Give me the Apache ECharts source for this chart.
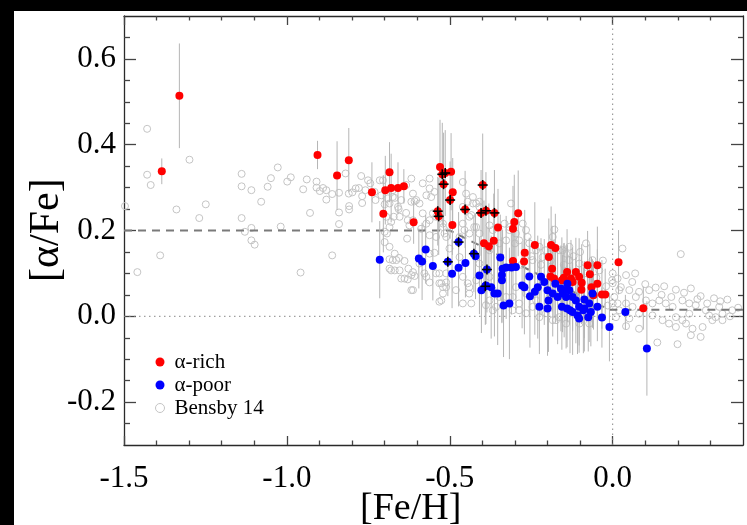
<!DOCTYPE html>
<html><head><meta charset="utf-8">
<script src="https://cdn.jsdelivr.net/npm/echarts@6/dist/echarts.min.js"></script>
<style>
html,body{margin:0;padding:0;background:#000;width:747px;height:525px;overflow:hidden}
#paper{position:absolute;left:14px;top:11px;width:733px;height:514px;background:#fff}
#chart{position:absolute;left:0;top:0;width:747px;height:525px}
</style></head><body>
<div id="paper"></div><div id="chart"></div>
<script>
// ---------- data ----------
const xMajor = [-1.5, -1.0, -0.5, 0.0];
const xMinor = [-1.4,-1.3,-1.2,-1.1,-0.9,-0.8,-0.7,-0.6,-0.4,-0.3,-0.2,-0.1,0.1,0.2,0.3];
const yMajor = [-0.2, 0.0, 0.2, 0.4, 0.6];
const yMinor = [-0.25,-0.15,-0.1,-0.05,0.05,0.1,0.15,0.25,0.3,0.35,0.45,0.5,0.55,0.65];

// [Fe/H], [alpha/Fe], error
const alphaRich = [
[-1.384,0.338,0.03],[-1.330,0.514,0.122],[-0.906,0.376,0.033],[-0.846,0.328,0.08],[-0.810,0.364,0.075],
[-0.739,0.289,0.07],[-0.704,0.239,0.09],[-0.698,0.294,0.08],[-0.685,0.336,0.07],[-0.680,0.299,0.08],
[-0.659,0.299,0.06],[-0.641,0.303,0.04],[-0.611,0.219,0.05],[-0.530,0.348,0.11],[-0.523,0.331,0.12],
[-0.514,0.334,0.10],[-0.496,0.337,0.09],[-0.519,0.308,0.12],[-0.491,0.289,0.08],[-0.499,0.271,0.09],
[-0.537,0.245,0.08],[-0.534,0.233,0.09],[-0.492,0.213,0.07],[-0.453,0.249,0.09],[-0.399,0.306,0.12],
[-0.404,0.241,0.10],[-0.389,0.246,0.09],[-0.363,0.241,0.10],[-0.352,0.207,0.09],[-0.365,0.176,0.11],
[-0.395,0.170,0.10],[-0.380,0.163,0.10],[-0.306,0.204,0.10],[-0.302,0.220,0.11],[-0.290,0.240,0.10],
[-0.306,0.129,0.09],[-0.270,0.148,0.10],[-0.272,0.128,0.08],[-0.239,0.166,0.10],[-0.189,0.166,0.09],
[-0.176,0.159,0.08],[-0.196,0.138,0.09],[-0.186,0.111,0.10],[-0.191,0.093,0.08],[-0.180,0.088,0.09],
[-0.140,0.103,0.10],[-0.113,0.103,0.08],[-0.103,0.092,0.09],[-0.077,0.119,0.08],[-0.047,0.119,0.09],
[-0.070,0.098,0.07],[-0.047,0.076,0.08],[-0.095,0.078,0.09],[-0.123,0.080,0.08],[-0.065,0.068,0.07],
[-0.033,0.051,0.08],[-0.023,0.051,0.06],[-0.059,0.049,0.08],[-0.156,0.084,0.10],[-0.128,0.088,0.09],
[0.018,0.126,0.075],[0.094,0.019,0.05],[-0.096,0.062,0.08],[-0.150,0.090,0.08]
];
const alphaPoor = [
[-0.715,0.132,0.09],[-0.574,0.156,0.08],[-0.595,0.135,0.07],[-0.585,0.128,0.09],[-0.552,0.117,0.08],
[-0.493,0.099,0.08],[-0.473,0.113,0.09],[-0.452,0.124,0.08],[-0.421,0.140,0.10],[-0.409,0.095,0.09],
[-0.403,0.061,0.10],[-0.389,0.072,0.09],[-0.373,0.068,0.12],[-0.363,0.053,0.10],[-0.353,0.053,0.12],
[-0.345,0.137,0.10],[-0.338,0.111,0.09],[-0.340,0.096,0.11],[-0.340,0.084,0.10],[-0.327,0.114,0.12],
[-0.311,0.114,0.11],[-0.297,0.115,0.10],[-0.335,0.025,0.12],[-0.317,0.030,0.13],[-0.278,0.072,0.10],
[-0.271,0.068,0.11],[-0.256,0.093,0.09],[-0.254,0.047,0.12],[-0.239,0.057,0.10],[-0.230,0.068,0.12],
[-0.220,0.092,0.09],[-0.210,0.080,0.10],[-0.200,0.061,0.11],[-0.197,0.037,0.12],[-0.200,0.018,0.11],
[-0.184,0.053,0.10],[-0.169,0.045,0.11],[-0.176,0.076,0.09],[-0.159,0.065,0.10],[-0.149,0.061,0.11],
[-0.143,0.045,0.12],[-0.156,0.022,0.10],[-0.140,0.018,0.09],[-0.131,0.014,0.10],[-0.139,0.076,0.09],
[-0.123,0.045,0.08],[-0.113,0.037,0.10],[-0.103,0.022,0.09],[-0.103,-0.005,0.08],[-0.090,0.014,0.10],
[-0.075,-0.002,0.08],[-0.072,0.030,0.09],[-0.062,0.053,0.08],[-0.047,0.022,0.08],[-0.010,-0.025,0.08],
[0.039,0.010,0.04],[0.105,-0.075,0.11],[-0.033,-0.003,0.07],[-0.473,0.173,0.07],[-0.506,0.127,0.08],
[-0.426,0.146,0.09],[-0.386,0.109,0.10],[-0.391,0.070,0.09],[-0.225,0.022,0.11],[-0.108,0.002,0.09],
[-0.087,0.018,0.10],[-0.067,0.010,0.08],[-0.087,0.039,0.09],[-0.133,0.061,0.08],[-0.154,0.053,0.09],
[-0.123,0.010,0.10]
];
// stars flagged with a black cross
const crossMarks = [
[-0.523,0.331],[-0.514,0.334],[-0.519,0.308],[-0.499,0.271],[-0.537,0.245],[-0.534,0.233],
[-0.453,0.249],[-0.399,0.306],[-0.404,0.241],[-0.389,0.246],[-0.363,0.241],
[-0.473,0.173],[-0.506,0.127],[-0.426,0.146],[-0.386,0.109],[-0.391,0.070]
];
const bensby = [
[-1.497,0.257],[-1.459,0.103],[-1.429,0.437],[-1.429,0.330],[-1.418,0.306],[-1.389,0.142],[-1.339,0.249],[-1.299,0.365],[-1.269,0.229],[-1.249,0.261],
[-1.139,0.332],[-1.139,0.303],[-1.139,0.229],[-1.129,0.197],[-1.109,0.294],[-1.109,0.206],[-1.109,0.177],[-1.099,0.167],[-1.079,0.267],[-1.059,0.302],[-1.049,0.322],[-1.028,0.347],[-1.019,0.209],
[-0.999,0.314],[-0.988,0.324],[-0.958,0.102],[-0.950,0.296],[-0.939,0.319],[-0.929,0.241],[-0.909,0.314],[-0.909,0.300],[-0.899,0.292],[-0.889,0.299],[-0.879,0.294],[-0.879,0.272],[-0.861,0.285],[-0.861,0.142],[-0.840,0.288],[-0.840,0.242],[-0.840,0.215],[-0.820,0.333],[-0.810,0.286],[-0.809,0.257],[-0.809,0.249],[-0.799,0.289],[-0.789,0.298],[-0.779,0.299],[-0.772,0.327],[-0.769,0.280],[-0.769,0.264],[-0.759,0.294],[-0.751,0.317],[-0.744,0.310],[-0.731,0.290],[-0.728,0.271],[-0.715,0.317],[-0.710,0.282],[-0.705,0.317],
[-0.700,0.261],[-0.700,0.197],[-0.695,0.232],[-0.693,0.193],[-0.690,0.275],[-0.685,0.263],[-0.685,0.208],[-0.675,0.294],[-0.675,0.278],[-0.672,0.232],[-0.669,0.276],[-0.680,0.220],[-0.659,0.255],[-0.657,0.250],[-0.654,0.232],[-0.649,0.271],[-0.634,0.306],[-0.634,0.241],[-0.629,0.224],[-0.624,0.212],[-0.618,0.321],[-0.618,0.267],[-0.613,0.286],[-0.613,0.224],[-0.608,0.268],[-0.603,0.271],[-0.593,0.263],[-0.588,0.204],[-0.583,0.310],[-0.583,0.240],[-0.572,0.282],[-0.572,0.216],[-0.562,0.321],[-0.562,0.298],[-0.562,0.224],[-0.562,0.189],[-0.557,0.278],[-0.552,0.240],[-0.547,0.290],[-0.542,0.232],[-0.542,0.185],[-0.521,0.216],[-0.521,0.208],[-0.516,0.193],[-0.511,0.185],[-0.631,0.181],[-0.700,0.173],[-0.685,0.162],
[-0.685,0.133],[-0.685,0.111],[-0.675,0.131],[-0.669,0.146],[-0.669,0.107],[-0.664,0.131],[-0.656,0.136],[-0.680,0.107],[-0.654,0.107],[-0.649,0.088],[-0.639,0.129],[-0.639,0.088],[-0.629,0.086],[-0.627,0.111],[-0.618,0.096],[-0.618,0.061],[-0.613,0.103],[-0.613,0.061],[-0.608,0.094],[-0.593,0.123],[-0.578,0.100],[-0.572,0.092],[-0.562,0.146],[-0.562,0.079],[-0.547,0.148],[-0.542,0.100],[-0.532,0.100],[-0.532,0.077],[-0.532,0.034],[-0.526,0.077],[-0.521,0.053],[-0.521,0.068],[-0.526,0.037],[-0.511,0.079],[-0.511,0.068],[-0.511,0.100],
[-0.501,0.158],[-0.481,0.061],[-0.470,0.138],[-0.470,0.185],[-0.460,0.313],[-0.460,0.255],[-0.460,0.216],[-0.460,0.092],[-0.460,0.030],[-0.455,0.201],[-0.450,0.286],[-0.445,0.267],[-0.445,0.077],[-0.440,0.232],[-0.440,0.193],[-0.440,0.068],[-0.440,0.053],[-0.434,0.236],[-0.434,0.030],[-0.429,0.278],[-0.429,0.263],[-0.425,0.208],[-0.419,0.263],[-0.419,0.208],[-0.419,0.084],[-0.409,0.267],[-0.409,0.255],[-0.409,0.193],[-0.409,0.123],[-0.389,0.107],[-0.389,0.026],[-0.378,0.212],[-0.378,0.154],[-0.378,0.092],[-0.378,0.037],[-0.368,0.201],[-0.368,0.061],[-0.368,0.014],[-0.358,0.022],[-0.348,0.170],[-0.348,0.045],[-0.332,0.216],[-0.327,0.177],[-0.327,0.045],[-0.317,0.208],[-0.317,0.201],[-0.312,0.263],[-0.307,0.014],[-0.307,0.045],
[-0.300,0.170],[-0.297,0.193],[-0.297,0.068],[-0.287,0.177],[-0.287,0.030],[-0.287,0.014],[-0.280,0.120],[-0.276,0.216],[-0.266,0.201],[-0.266,0.053],[-0.266,0.007],[-0.261,0.185],[-0.256,0.170],[-0.250,0.140],[-0.246,0.131],[-0.246,0.022],[-0.235,0.154],[-0.235,0.037],[-0.225,0.162],[-0.225,-0.002],[-0.220,0.120],[-0.215,0.138],[-0.205,0.154],[-0.205,0.007],[-0.194,0.045],[-0.190,0.130],[-0.184,0.185],[-0.184,-0.009],[-0.179,0.202],[-0.174,-0.009],[-0.164,0.154],[-0.164,-0.002],[-0.154,0.154],[-0.150,0.120],[-0.143,0.146],[-0.143,-0.017],[-0.133,0.162],[-0.133,0.131],[-0.120,0.140],[-0.102,0.123],[-0.102,-0.017],[-0.100,0.150],[-0.082,0.170],[-0.080,0.100],[-0.072,-0.017],[-0.062,0.131],[-0.050,0.090],[-0.041,0.107],[-0.030,0.130],[-0.020,0.070],[-0.015,0.025],[-0.002,0.084],[0.000,0.100],[0.000,0.077],[0.000,0.030],
[0.005,0.045],[0.010,-0.002],[0.015,0.088],[0.015,0.030],[0.020,0.061],[0.020,0.014],[0.025,0.068],[0.030,0.158],[0.041,0.096],[0.041,0.030],[0.041,-0.023],[0.051,0.061],[0.051,-0.005],[0.060,0.080],[0.061,0.022],[0.069,0.100],[0.071,0.045],[0.081,0.057],[0.081,0.006],[0.081,-0.029],[0.100,0.075],[0.102,0.037],[0.112,0.061],[0.122,0.030],[0.122,0.002],[0.132,0.067],[0.137,-0.061],[0.143,0.037],[0.150,0.050],[0.153,-0.009],[0.158,0.070],[0.163,0.030],[0.173,-0.017],[0.180,0.045],[0.184,0.022],[0.194,0.062],[0.194,-0.002],[0.194,-0.025],[0.199,-0.065],[0.209,0.145],[0.214,0.037],[0.214,-0.009],[0.219,0.055],[0.225,-0.017],[0.235,0.030],[0.235,0.006],[0.240,0.065],[0.240,-0.044],[0.245,-0.029],[0.255,0.026],[0.260,0.040],[0.270,0.047],[0.270,-0.048],[0.276,-0.025],[0.286,0.014],[0.290,0.030],[0.296,0.002],[0.306,-0.009],[0.311,0.042],[0.316,-0.002],[0.327,0.022],[0.330,0.035],[0.337,0.006],[0.337,-0.009],[0.352,0.039],[0.360,0.000],[0.367,0.014],[0.385,0.020]
];
const dashFe = [-1.5, -0.5, -0.01, 0.4];
const dashAlpha = [0.2, 0.2, 0.015, 0.015];

// ---------- chart ----------
const FONT = 'Liberation Serif';
const XMIN = -1.5, XMAX = 0.4, YMIN = -0.3, YMAX = 0.7;
const AX = '#2a2a2a';

function mkAxis(pos, ticks, len, label, line, isX) {
  const a = {
    type: 'value', min: isX ? XMIN : YMIN, max: isX ? XMAX : YMAX, position: pos,
    splitLine: { show: false },
    axisLine: { show: line, onZero: false, lineStyle: { color: AX, width: 1.3 } },
    axisTick: { show: true, inside: true, length: len, customValues: ticks, lineStyle: { color: '#444', width: 1.3 } },
    axisLabel: { show: false }
  };
  if (label) {
    a.axisLabel = { show: true, customValues: ticks, formatter: v => Number(v).toFixed(1),
      fontFamily: FONT, fontSize: 31, color: '#000', margin: isX ? 18 : 8 };
  }
  return a;
}

const errData = alphaRich.concat(alphaPoor).map(d => [d[0], d[1] - d[2], d[1] + d[2]]);

const chart = echarts.init(document.getElementById('chart'), null, { renderer: 'canvas' });
chart.setOption({
  animation: false,
  backgroundColor: 'transparent',
  grid: { left: 124, right: 4, top: 16, bottom: 80 },
  xAxis: [
    mkAxis('bottom', xMajor, 9, true, true, true),
    mkAxis('bottom', xMinor, 4.5, false, false, true),
    mkAxis('top', xMajor, 9, false, true, true),
    mkAxis('top', xMinor, 4.5, false, false, true)
  ],
  yAxis: [
    mkAxis('left', yMajor, 12, true, true, false),
    mkAxis('left', yMinor, 6, false, false, false),
    mkAxis('right', yMajor, 12, false, true, false),
    mkAxis('right', yMinor, 5, false, false, false)
  ],
  legend: {
    orient: 'vertical', left: 155, top: 351, padding: 0, itemGap: 1,
    itemWidth: 9, itemHeight: 9, selectedMode: false,
    textStyle: { fontFamily: FONT, fontSize: 21, lineHeight: 22, color: '#000', padding: [0, 0, 0, 5] },
    data: [
      { name: 'α-rich', icon: 'circle' },
      { name: 'α-poor', icon: 'circle' },
      { name: 'Bensby 14', icon: 'circle', itemStyle: { color: 'rgba(255,255,255,0)', borderColor: '#c4c4c4', borderWidth: 1 } }
    ]
  },
  graphic: [
    { type: 'text', left: 360, top: 490, silent: true,
      style: { text: '[Fe/H]', font: '38px "Liberation Serif"', fill: '#000' } },
    { type: 'text', x: 26, y: 282, rotation: Math.PI / 2, silent: true,
      style: { text: '[α/Fe]', font: '42px "Liberation Serif"', fill: '#000' } }
  ],
  series: [
    { name: 'Bensby 14', type: 'scatter', data: bensby, symbol: 'circle', symbolSize: 7, z: 1,
      itemStyle: { color: 'rgba(255,255,255,0)', borderColor: '#c4c4c4', borderWidth: 1, opacity: 1 } },
    { type: 'line', data: dashFe.map((f, i) => [f, dashAlpha[i]]), symbol: 'none', z: 2,
      lineStyle: { color: '#7a7a7a', width: 2, type: [8, 6] } },
    { type: 'line', data: [[XMIN, 0], [XMAX, 0]], symbol: 'none', z: 2,
      lineStyle: { color: '#888', width: 1, type: [1.5, 3.5] } },
    { type: 'line', data: [[0, YMIN], [0, YMAX]], symbol: 'none', z: 2,
      lineStyle: { color: '#888', width: 1, type: [1.5, 3.5] } },
    { type: 'custom', data: errData, z: 3, encode: { x: 0, y: [1, 2] },
      renderItem: (params, api) => {
        const p1 = api.coord([api.value(0), api.value(1)]);
        const p2 = api.coord([api.value(0), api.value(2)]);
        return { type: 'line', shape: { x1: p1[0], y1: p1[1], x2: p2[0], y2: p2[1] },
          style: { stroke: '#b5b5b5', lineWidth: 1 } };
      } },
    { name: 'α-rich', type: 'scatter', data: alphaRich.map(d => [d[0], d[1]]), symbolSize: 8, z: 4,
      itemStyle: { color: '#ff0000', opacity: 1 } },
    { name: 'α-poor', type: 'scatter', data: alphaPoor.map(d => [d[0], d[1]]), symbolSize: 8, z: 4,
      itemStyle: { color: '#0000ff', opacity: 1 } },
    { type: 'custom', data: crossMarks, z: 5, encode: { x: 0, y: 1 },
      renderItem: (params, api) => {
        const c = api.coord([api.value(0), api.value(1)]);
        const s = 5;
        return { type: 'group', children: [
          { type: 'line', shape: { x1: c[0] - s, y1: c[1], x2: c[0] + s, y2: c[1] }, style: { stroke: '#000', lineWidth: 1.6 } },
          { type: 'line', shape: { x1: c[0], y1: c[1] - s, x2: c[0], y2: c[1] + s }, style: { stroke: '#000', lineWidth: 1.6 } }
        ] };
      } }
  ]
});
</script></body></html>
